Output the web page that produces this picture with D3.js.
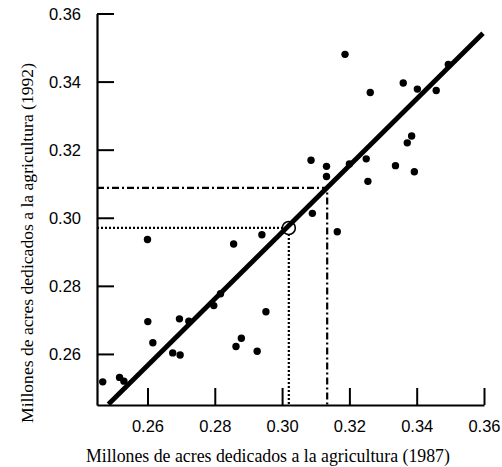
<!DOCTYPE html>
<html>
<head>
<meta charset="utf-8">
<script src="https://cdn.jsdelivr.net/npm/d3@7"></script>
<style>
  html, body { margin: 0; padding: 0; background: #fff; }
  svg { display: block; }
  text { fill: #000; }
  .title { font-family: "Liberation Serif", "Times New Roman", serif; }
  .tick text { font-family: "Liberation Sans", Arial, sans-serif; }
</style>
</head>
<body>
<svg id="chart" width="502" height="467"></svg>
<script>
// Farmland per county, millions of acres: 1987 (x) vs 1992 (y)
const acres1987 = [
  0.2600, 0.2856, 0.2940, 0.2601, 0.2695, 0.2723, 0.2616, 0.2675, 0.2697,
  0.2797, 0.2817, 0.2952, 0.2879, 0.2863, 0.2926, 0.2467, 0.2517, 0.2530,
  0.3187, 0.3262, 0.3360, 0.3402, 0.3458, 0.3494, 0.3385, 0.3372, 0.3086,
  0.3132, 0.3132, 0.3200, 0.3250, 0.3337, 0.3393, 0.3255, 0.3090, 0.3164
];
const acres1992 = [
  0.2936, 0.2923, 0.2950, 0.2695, 0.2703, 0.2696, 0.2633, 0.2603, 0.2597,
  0.2742, 0.2777, 0.2724, 0.2646, 0.2622, 0.2608, 0.2518, 0.2531, 0.2520,
  0.3480, 0.3368, 0.3396, 0.3378, 0.3374, 0.3450, 0.3240, 0.3220, 0.3169,
  0.3151, 0.3121, 0.3158, 0.3173, 0.3153, 0.3135, 0.3107, 0.3013, 0.2959
];

// Fitted line, given by its two end points (1987, 1992)
const fitX = [0.2484, 0.3597];
const fitY = [0.2452, 0.3542];

// Highlighted point with its read-off guide
const circledX = [0.302];
const circledY = [0.297];
// Prediction
const predictedX = [0.3134];
const predictedY = [0.3088];

const xTicks = [0.26, 0.28, 0.30, 0.32, 0.34, 0.36];
const yTicks = [0.26, 0.28, 0.30, 0.32, 0.34, 0.36];
const axisDomain = [0.245, 0.36];

const xTitle = "Millones de acres dedicados a la agricultura (1987)";
const yTitle = "Millones de acres dedicados a la agricultura (1992)";

const svg = d3.select("#chart");
const plotLeft = 97, plotRight = 484, plotTop = 13.5, plotBottom = 405;

const x = d3.scaleLinear().domain(axisDomain).range([plotLeft, plotRight]);
const y = d3.scaleLinear().domain(axisDomain).range([plotBottom, plotTop]);
const fmt = d3.format(".2f");

// Axes: inward ticks, no frame on top/right
const xAxis = svg.append("g")
  .attr("transform", `translate(0,${plotBottom})`)
  .call(d3.axisBottom(x).tickValues(xTicks).tickFormat(fmt)
    .tickSizeInner(-17).tickSizeOuter(0).tickPadding(16));
const yAxis = svg.append("g")
  .attr("transform", `translate(${plotLeft},0)`)
  .call(d3.axisLeft(y).tickValues(yTicks).tickFormat(fmt)
    .tickSizeInner(-17).tickSizeOuter(0).tickPadding(16));

[xAxis, yAxis].forEach(g => {
  g.attr("font-family", null).attr("font-size", null);
  g.select(".domain").attr("stroke", "#000").attr("stroke-width", 2.2);
  g.selectAll(".tick line").attr("stroke", "#000").attr("stroke-width", 2);
  g.selectAll(".tick text")
    .attr("fill", "#000")
    .style("font-size", "16.5px");
});
xAxis.selectAll(".tick text").attr("dy", null).attr("y", 27);
yAxis.selectAll(".tick text").attr("dy", "0.36em");

// Guide lines
const dotted = "2,2";
const dashDot = "7,3,2,3";
const guides = svg.append("g").attr("fill", "none").attr("stroke", "#000").attr("stroke-width", 2.2);
guides.append("path")
  .attr("stroke-dasharray", dotted)
  .attr("d", d3.line()([[x(axisDomain[0]), y(circledY[0])], [x(circledX[0]) - 6, y(circledY[0])]]));
guides.append("path")
  .attr("stroke-dasharray", dotted)
  .attr("d", d3.line()([[x(circledX[0]), y(circledY[0]) + 6], [x(circledX[0]), y(axisDomain[0])]]));
guides.append("path")
  .attr("stroke-dasharray", dashDot)
  .attr("d", d3.line()([[x(axisDomain[0]), y(predictedY[0])], [x(predictedX[0]), y(predictedY[0])], [x(predictedX[0]), y(axisDomain[0])]]));

// Fitted line
svg.append("path")
  .attr("fill", "none")
  .attr("stroke", "#000")
  .attr("stroke-width", 4.8)
  .attr("d", d3.line()(fitX.map((v, i) => [x(v), y(fitY[i])])));

// Data points
svg.append("g").selectAll("circle")
  .data(acres1987.map((v, i) => [v, acres1992[i]]))
  .join("circle")
  .attr("cx", d => x(d[0]))
  .attr("cy", d => y(d[1]))
  .attr("r", 3.7)
  .attr("fill", "#000");

// Circled point
svg.append("circle")
  .attr("cx", x(circledX[0]))
  .attr("cy", y(circledY[0]))
  .attr("r", 6.5)
  .attr("fill", "none")
  .attr("stroke", "#000")
  .attr("stroke-width", 1.6);

// Axis titles
svg.append("text")
  .attr("class", "title")
  .attr("x", 268).attr("y", 462)
  .attr("text-anchor", "middle")
  .style("font-size", "17.8px")
  .text(xTitle);
svg.append("text")
  .attr("class", "title")
  .attr("transform", "translate(33,243) rotate(-90)")
  .attr("text-anchor", "middle")
  .style("font-size", "17.6px")
  .text(yTitle);
</script>
</body>
</html>
